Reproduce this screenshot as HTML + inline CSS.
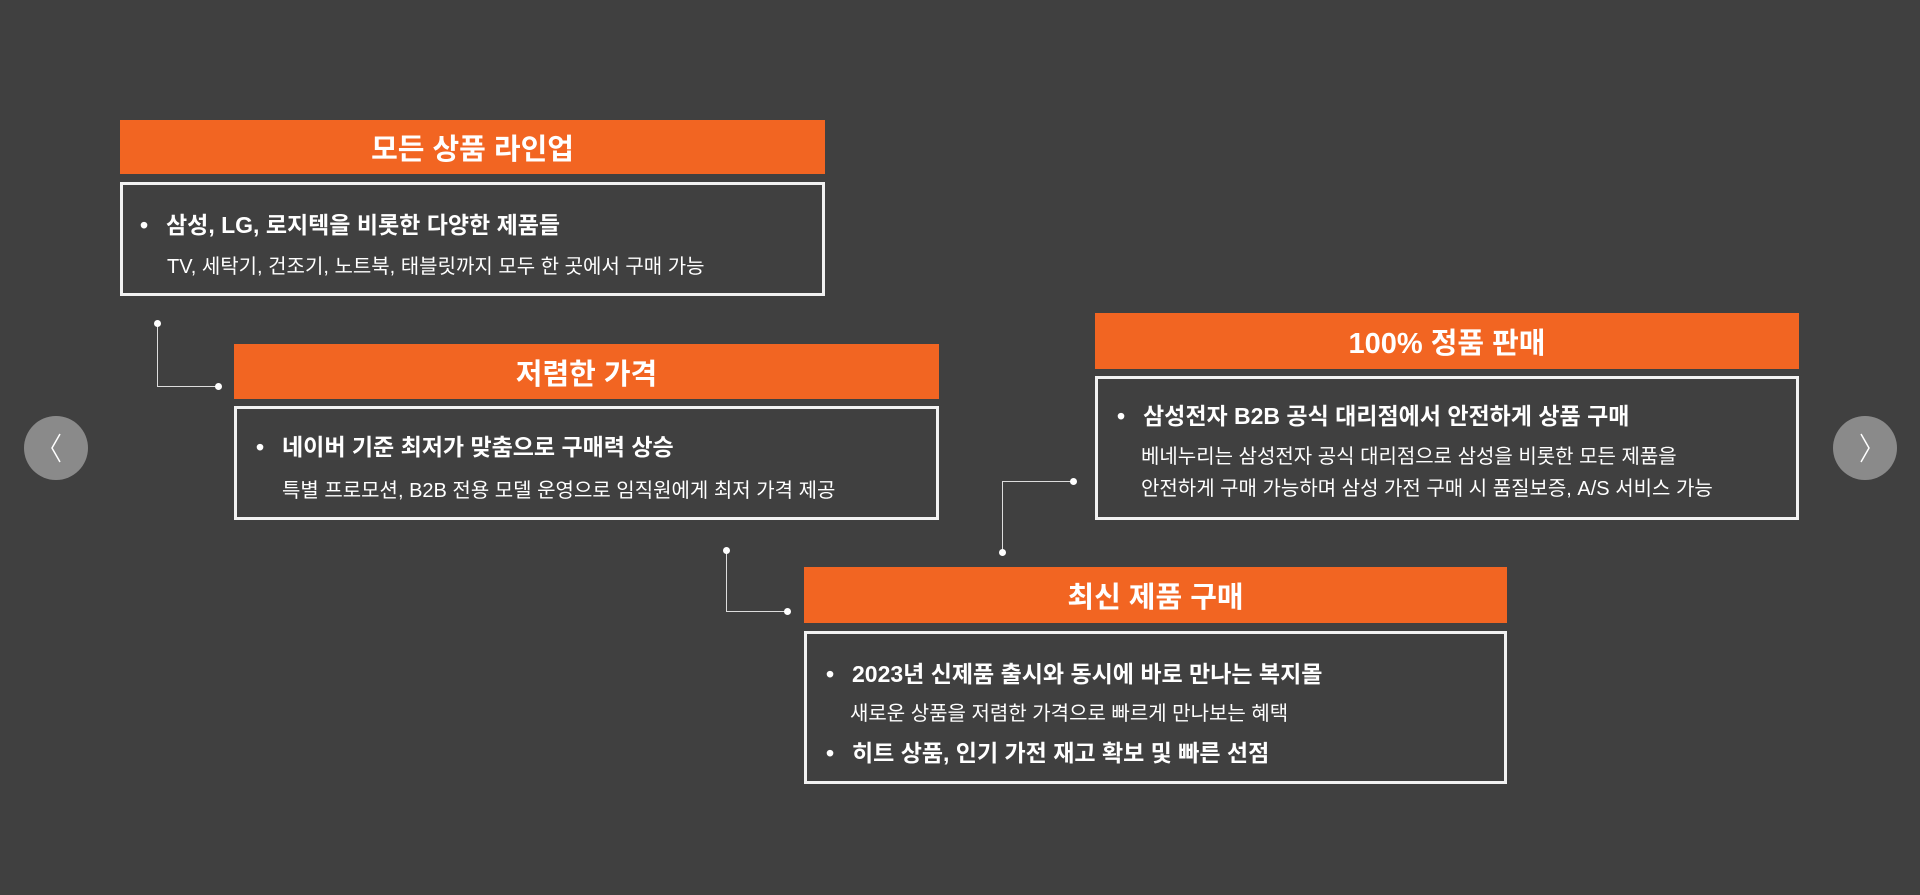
<!DOCTYPE html>
<html><head><meta charset="utf-8"><style>
body{margin:0;width:1920px;height:895px;background:#404040;overflow:hidden;position:relative;font-family:"Liberation Sans","Noto Sans CJK KR",sans-serif;color:#fff}
.h{position:absolute;background:#f26522;font-size:29px;font-weight:700;text-align:center;display:flex;align-items:center;justify-content:center}
.b{position:absolute;border:3px solid #f2f2f2;box-sizing:border-box}
.t{position:absolute;white-space:nowrap}
.m{font-size:23px;font-weight:700}
.m i{font-style:normal;display:inline-block;width:26px}
.s{font-size:20px}
.d{position:absolute;width:7px;height:7px;border-radius:50%;background:#fff}
.l{position:absolute;background:#ddd}
.n{position:absolute;width:64px;height:64px;border-radius:50%;background:#8a8a8a}
</style></head><body>
<div class="h" style="left:120px;top:120px;width:705px;height:54px">모든 상품 라인업</div>
<div class="b" style="left:120px;top:182px;width:705px;height:114px"></div>
<div class="t m" style="left:140px;top:206px"><i>•</i>삼성, LG, 로지텍을 비롯한 다양한 제품들</div>
<div class="t s" style="left:167px;top:250px">TV, 세탁기, 건조기, 노트북, 태블릿까지 모두 한 곳에서 구매 가능</div>

<div class="h" style="left:234px;top:344px;width:705px;height:55px">저렴한 가격</div>
<div class="b" style="left:234px;top:406px;width:705px;height:114px"></div>
<div class="t m" style="left:256px;top:428px"><i>•</i>네이버 기준 최저가 맞춤으로 구매력 상승</div>
<div class="t s" style="left:282px;top:474px">특별 프로모션, B2B 전용 모델 운영으로 임직원에게 최저 가격 제공</div>

<div class="h" style="left:1095px;top:313px;width:704px;height:56px">100% 정품 판매</div>
<div class="b" style="left:1095px;top:376px;width:704px;height:144px"></div>
<div class="t m" style="left:1117px;top:397px"><i>•</i>삼성전자 B2B 공식 대리점에서 안전하게 상품 구매</div>
<div class="t s" style="left:1141px;top:440px">베네누리는 삼성전자 공식 대리점으로 삼성을 비롯한 모든 제품을</div>
<div class="t s" style="left:1141px;top:472px">안전하게 구매 가능하며 삼성 가전 구매 시 품질보증, A/S 서비스 가능</div>

<div class="h" style="left:804px;top:567px;width:703px;height:56px">최신 제품 구매</div>
<div class="b" style="left:804px;top:631px;width:703px;height:153px"></div>
<div class="t m" style="left:826px;top:655px"><i>•</i>2023년 신제품 출시와 동시에 바로 만나는 복지몰</div>
<div class="t s" style="left:850px;top:697px">새로운 상품을 저렴한 가격으로 빠르게 만나보는 혜택</div>
<div class="t m" style="left:826px;top:734px"><i>•</i>히트 상품, 인기 가전 재고 확보 및 빠른 선점</div>

<div class="l" style="left:157px;top:323px;width:1px;height:63px"></div>
<div class="l" style="left:157px;top:386px;width:61px;height:1px"></div>
<div class="d" style="left:154px;top:320px"></div><div class="d" style="left:215px;top:383px"></div>
<div class="l" style="left:726px;top:550px;width:1px;height:61px"></div>
<div class="l" style="left:726px;top:611px;width:61px;height:1px"></div>
<div class="d" style="left:723px;top:547px"></div><div class="d" style="left:784px;top:608px"></div>
<div class="l" style="left:1002px;top:481px;width:1px;height:71px"></div>
<div class="l" style="left:1002px;top:481px;width:71px;height:1px"></div>
<div class="d" style="left:999px;top:549px"></div><div class="d" style="left:1070px;top:478px"></div>

<div class="n" style="left:24px;top:416px"><svg width="64" height="64"><path d="M36 18 L28 32 L36 46" stroke="#fff" stroke-width="1.5" fill="none"/></svg></div>
<div class="n" style="left:1833px;top:416px"><svg width="64" height="64"><path d="M28 18 L36 32 L28 46" stroke="#fff" stroke-width="1.5" fill="none"/></svg></div>
</body></html>
